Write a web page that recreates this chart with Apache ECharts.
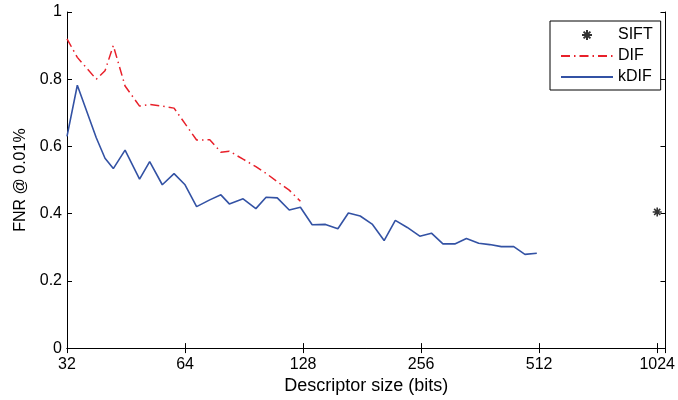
<!DOCTYPE html>
<html>
<head>
<meta charset="utf-8">
<script src="https://cdn.jsdelivr.net/npm/echarts@6/dist/echarts.min.js"></script>
<style>
  html, body { margin: 0; padding: 0; background: #fff; }
  #chart { width: 678px; height: 400px; }
</style>
</head>
<body>
<div id="chart"></div>
<script>
// descriptor sizes (bits)
var kdifSizes = [32, 34, 38, 40, 42, 45, 49, 52, 56, 60, 64,
                 68.5, 74, 79, 83, 90, 97, 103, 110, 118, 126,
                 135, 146, 157, 167, 179, 192, 206, 220, 236, 254,
                 272, 291, 312, 334, 359, 383, 410, 441, 471, 505];
var kdifValues = [0.63, 0.782, 0.626, 0.565, 0.534, 0.589, 0.503, 0.555, 0.486, 0.519, 0.486,
                  0.421, 0.441, 0.456, 0.429, 0.444, 0.415, 0.449, 0.447, 0.411, 0.419,
                  0.367, 0.368, 0.355, 0.402, 0.393, 0.369, 0.320, 0.380, 0.359, 0.333,
                  0.342, 0.310, 0.310, 0.326, 0.312, 0.308, 0.302, 0.302, 0.279, 0.282];
var difSizes = kdifSizes.slice(0, 21);
var difValues = [0.92, 0.865, 0.80, 0.825, 0.90, 0.78, 0.72, 0.725, 0.72, 0.714, 0.668,
                 0.619, 0.62, 0.583, 0.586, 0.562, 0.54, 0.52, 0.495, 0.47, 0.437];
var siftSize = [1024];
var siftValue = [0.405];
var xTicks = [32, 64, 128, 256, 512, 1024];

var font = 'Liberation Sans, Arial, Helvetica, sans-serif';
var asterisk = 'path://M5 0L5 10M0 5L10 5M1.6 1.6L8.4 8.4M1.6 8.4L8.4 1.6';

function pairs(xs, ys) {
    return xs.map(function (x, i) { return [x, ys[i]]; });
}

var chart = echarts.init(document.getElementById('chart'));

var xBase = {
    type: 'log',
    logBase: 2,
    min: 32,
    max: 1075,
    splitLine: { show: false },
    axisLine: { lineStyle: { color: '#000', width: 1 } },
    axisTick: { inside: true, length: 5, lineStyle: { color: '#000' } }
};
var yBase = {
    type: 'value',
    min: 0,
    max: 1,
    interval: 0.2,
    splitLine: { show: false },
    axisLine: { show: true, lineStyle: { color: '#000', width: 1 } },
    axisTick: { show: true, inside: true, length: 5, lineStyle: { color: '#000' } }
};

chart.setOption({
    animation: false,
    backgroundColor: '#fff',
    grid: { left: 67, right: 10, top: 12, bottom: 49 },
    legend: {
        orient: 'vertical',
        left: 550,
        top: 21,
        padding: [6, 8, 5, 10],
        itemWidth: 52,
        itemHeight: 10,
        itemGap: 5,
        borderColor: '#000',
        borderWidth: 1,
        backgroundColor: '#fff',
        textStyle: { fontFamily: font, fontSize: 16, color: '#000' },
        data: [
            { name: 'SIFT' },
            { name: 'DIF', itemStyle: { opacity: 0 } },
            { name: 'kDIF', itemStyle: { opacity: 0 } }
        ]
    },
    xAxis: [
        Object.assign({}, xBase, {
            position: 'bottom',
            name: 'Descriptor size (bits)',
            nameLocation: 'middle',
            nameGap: 22,
            nameTextStyle: { fontFamily: font, fontSize: 18, color: '#000' },
            axisLabel: {
                margin: 8,
                showMaxLabel: false,
                fontFamily: font, fontSize: 16, color: '#000',
                formatter: function (v) { return xTicks.indexOf(Math.round(v)) >= 0 ? String(Math.round(v)) : ''; }
            }
        }),
        Object.assign({}, xBase, {
            position: 'top',
            axisLabel: { show: false }
        })
    ],
    yAxis: [
        Object.assign({}, yBase, {
            position: 'left',
            name: 'FNR @ 0.01%',
            nameLocation: 'middle',
            nameRotate: 90,
            nameGap: 38,
            nameTextStyle: { fontFamily: font, fontSize: 16, color: '#000' },
            axisLabel: {
                margin: 5,
                fontFamily: font, fontSize: 16, color: '#000',
                formatter: function (v) { return String(Math.round(v * 10) / 10); }
            }
        }),
        Object.assign({}, yBase, {
            position: 'right',
            axisLabel: { show: false }
        })
    ],
    series: [
        {
            name: 'SIFT',
            type: 'scatter',
            symbol: asterisk,
            symbolSize: 9,
            itemStyle: { color: '#000', borderColor: '#000', borderWidth: 1.6 },
            data: pairs(siftSize, siftValue)
        },
        {
            name: 'DIF',
            type: 'line',
            symbol: 'none',
            lineStyle: { color: '#e8202a', width: 1.5, type: [9, 4, 1.5, 4] },
            itemStyle: { color: '#e8202a' },
            data: pairs(difSizes, difValues)
        },
        {
            name: 'kDIF',
            type: 'line',
            symbol: 'none',
            lineStyle: { color: '#3352a4', width: 1.6 },
            itemStyle: { color: '#3352a4' },
            data: pairs(kdifSizes, kdifValues)
        }
    ]
});
</script>
</body>
</html>
